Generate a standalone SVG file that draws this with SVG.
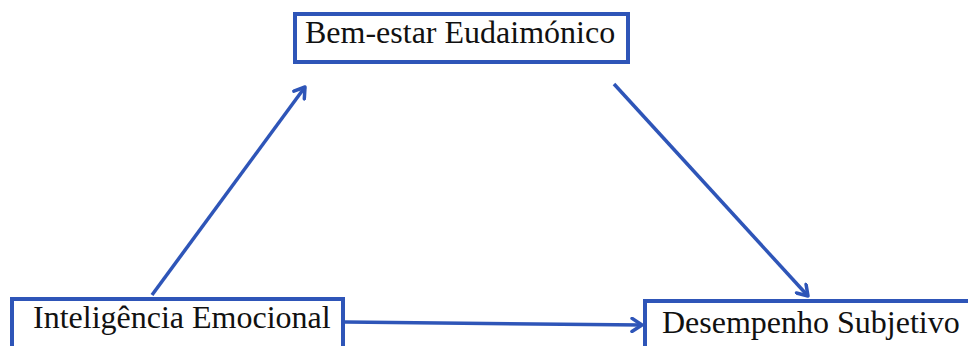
<svg xmlns="http://www.w3.org/2000/svg" width="968" height="346" viewBox="0 0 968 346">
<defs>
<style>
.box{fill:#fff;stroke:#2E55B8;stroke-width:4}
.lbl{font-family:"Liberation Serif","Times New Roman",serif;font-size:32px;fill:#111}
.con{stroke:#2E55B8;stroke-width:3.5;fill:none}
</style>
<marker id="arr" viewBox="0 0 16 16" refX="13" refY="8" markerWidth="16" markerHeight="16" markerUnits="userSpaceOnUse" orient="auto">
<path d="M3,1.5 L13,8 L3,14.5" fill="none" stroke="#2E55B8" stroke-width="3.5" stroke-linecap="round" stroke-linejoin="round"/>
</marker>
</defs>
<rect width="968" height="346" fill="#fff"/>
<g id="connectors">
<line class="con" x1="152" y1="295" x2="305" y2="87" marker-end="url(#arr)"/>
<line class="con" x1="614" y1="84" x2="808" y2="296" marker-end="url(#arr)"/>
<line class="con" x1="345" y1="322" x2="642" y2="325" marker-end="url(#arr)"/>
</g>
<g id="node-bem-estar">
<rect class="box" x="295" y="14" width="333" height="48"/>
<text class="lbl" x="305" y="43">Bem-estar Eudaimónico</text>
</g>
<g id="node-inteligencia">
<rect class="box" x="12" y="299" width="331" height="60"/>
<text class="lbl" x="33" y="328">Inteligência Emocional</text>
</g>
<g id="node-desempenho">
<rect class="box" x="645" y="301" width="330" height="60"/>
<text class="lbl" x="662" y="333">Desempenho Subjetivo</text>
</g>
</svg>
